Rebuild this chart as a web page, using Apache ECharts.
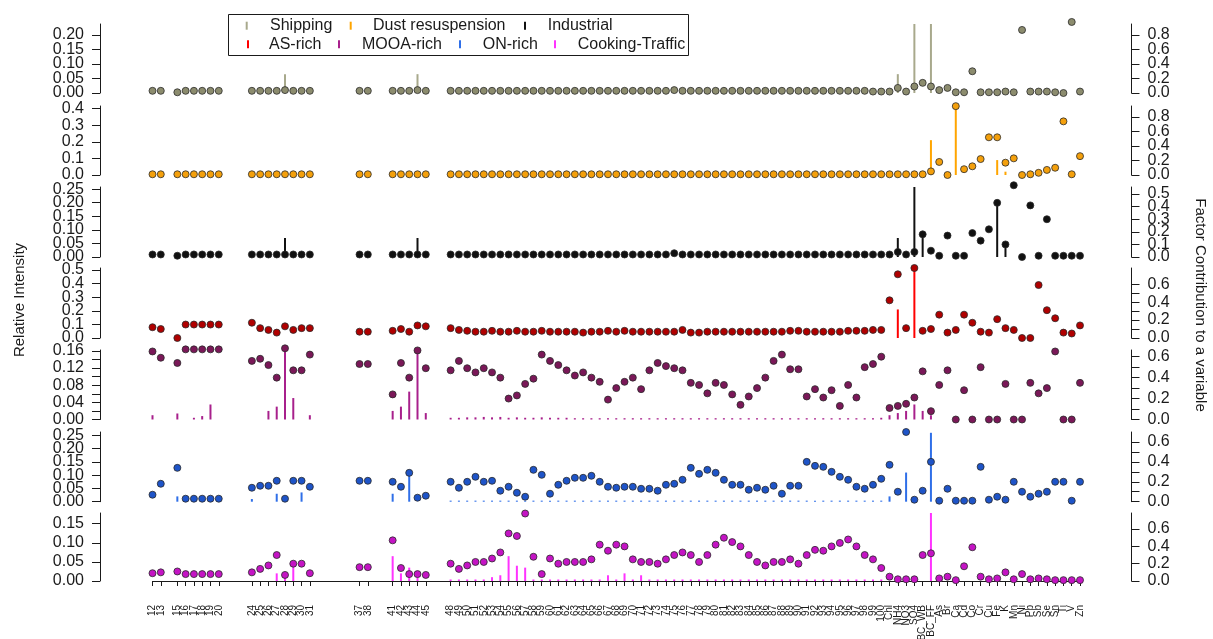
<!DOCTYPE html>
<html><head><meta charset="utf-8">
<script src="https://cdn.jsdelivr.net/npm/echarts@6/dist/echarts.min.js"></script>
<style>html,body{margin:0;background:#fff}#c{width:1213px;height:639px}</style>
</head><body><div id="c"></div>
<script>
// Variables: AMS m/z fragments followed by chemical species
const mzLabels = [12,13,15,16,17,18,19,20, 24,25,26,27,28,29,30,31, 37,38,41,42,43,44,45,
  48,49,50,51,52,53,54,55,56,57, 58,59,60,61,62,63,64,65,66,67, 68,69,70,71,72,73,74,75,76,77,
  78,79,80,81,82,83,84,85,86,87, 88,89,90,91,92,93,94,95,96,97, 98,99,100];
const speciesLabels = ['Chl','NH4','NO3','SO4','BC_WB','BC_FF','As','Br','Ca','Cd','Co','Cr',
  'Cu','Fe','K','Mn','Ni','Pb','Sb','Se','Sn','Ti','V','Zn'];
const factorNames = ['Shipping','Dust resuspension','Industrial','AS-rich','MOOA-rich','ON-rich','Cooking-Traffic'];

// Each array: rows follow mzLabels (12-20 | 24-31 | 37-45 | 48-57 | 58-67 | 68-77 | 78-87 | 88-97 | 98-100),
// then the 24 species in speciesLabels order.
// ---- Relative intensity (factor profile, left axis) ----
const shippingProfile = [
  0,0,0,0,0,0,0,0,  0,0,0,0,0.065,0,0,0,  0,0,0,0,0,0.065,0,
  0,0,0,0,0,0,0,0,0,0,  0,0,0,0,0,0,0,0,0,0,  0,0,0,0,0,0,0,0,0,0,
  0,0,0,0,0,0,0,0,0,0,  0,0,0,0,0,0,0,0,0,0,  0,0,0,
  0,0.065,0,0.24,0,0.24,0,0,0,0,0,0,  0,0,0,0,0,0,0,0,0,0,0,0];
const dustProfile = [
  0,0,0,0,0,0,0,0,  0,0,0,0,0.005,0,0,0,  0,0,0,0,0,0.004,0,
  0,0,0,0,0,0,0,0,0,0,  0,0,0,0,0,0,0,0,0,0,  0,0,0,0,0,0,0,0,0,0,
  0,0,0,0,0,0,0,0,0,0,  0,0,0,0,0,0,0,0,0,0,  0,0,0,
  0,0,0,0,0,0.21,0,0,0.42,0,0,0,  0,0.09,0.02,0,0,0,0,0,0,0,0,0];
const industrialProfile = [
  0,0,0,0,0,0,0,0,  0,0,0,0,0.07,0,0,0,  0,0,0,0,0,0.07,0,
  0,0,0,0,0,0,0,0,0,0,  0,0,0,0,0,0,0,0,0,0,  0,0,0,0,0,0,0,0,0,0,
  0,0,0,0,0,0,0,0,0,0,  0,0,0,0,0,0,0,0,0,0,  0,0,0,
  0,0.07,0,0.26,0.08,0,0,0,0,0,0,0,  0,0.19,0.05,0,0,0,0,0,0,0,0,0];
const asProfile = [
  0,0,0,0,0,0,0,0,  0,0,0,0,0,0,0,0,  0,0,0,0,0,0,0,
  0,0,0,0,0,0,0,0,0,0,  0,0,0,0,0,0,0,0,0,0,  0,0,0,0,0,0,0,0,0,0,
  0,0,0,0,0,0,0,0,0,0,  0,0,0,0,0,0,0,0,0,0,  0,0,0,
  0,0.21,0,0.52,0,0,0,0,0,0,0,0,  0,0,0,0,0,0,0,0,0,0,0,0];
const mooaProfile = [
  0.01,0,0.014,0,0.004,0.008,0.035,0,  0,0,0.02,0.03,0.16,0.05,0,0.01,  0,0,0.02,0.03,0.065,0.16,0.015,
  0.004,0.004,0.005,0.005,0.006,0.005,0.006,0.004,0.005,0.004,  0.004,0.005,0.004,0.004,0.004,0.003,0.003,0.003,0.003,0.003,
  0.003,0.003,0.003,0.003,0.003,0.003,0.003,0.003,0.003,0.003,  0.003,0.003,0.003,0.003,0.003,0.003,0.003,0.003,0.003,0.003,
  0.003,0.003,0.003,0.003,0.003,0.003,0.003,0.003,0.003,0.003,  0.003,0.003,0.004,
  0.01,0.015,0.02,0.035,0.02,0.01,0,0,0,0,0,0,  0,0,0,0,0,0,0,0,0,0,0,0];
const onProfile = [
  0,0,0.02,0,0,0,0,0,  0.01,0,0,0.03,0.01,0,0.035,0,  0,0,0.03,0,0.10,0,0,
  0.004,0.004,0.004,0.004,0.004,0.004,0.004,0.004,0.004,0.004,  0.004,0.004,0.004,0.004,0.004,0.004,0.004,0.004,0.004,0.004,
  0.004,0.004,0.004,0.004,0.004,0.004,0.004,0.004,0.004,0.004,  0.004,0.004,0.004,0.004,0.004,0.004,0.004,0.004,0.004,0.004,
  0.004,0.004,0.004,0.004,0.004,0.004,0.004,0.004,0.004,0.004,  0.004,0.004,0.004,
  0.02,0,0.11,0,0,0.26,0,0,0,0,0,0,  0,0,0,0,0,0,0,0,0,0,0,0];
const cookingProfile = [
  0,0,0,0,0,0,0,0,  0,0,0,0.02,0.02,0.04,0,0,  0,0,0.065,0.02,0.035,0.01,0,
  0.004,0.004,0.004,0.004,0.004,0.01,0.015,0.065,0.04,0.035,  0.004,0.004,0.004,0.004,0.004,0.004,0.004,0.004,0.004,0.015,
  0.004,0.02,0.004,0.015,0.004,0.004,0.004,0.004,0.004,0.004,  0.004,0.004,0.004,0.004,0.004,0.004,0.004,0.004,0.004,0.004,
  0.004,0.004,0.004,0.004,0.004,0.004,0.004,0.004,0.004,0.004,  0.004,0.004,0.004,
  0,0,0,0,0,0.18,0,0,0,0,0,0,  0,0,0,0,0,0,0,0,0,0,0,0];

// ---- Factor contribution to each variable (right axis) ----
const shippingContrib = [
  0.03,0.03,0.01,0.03,0.03,0.03,0.03,0.03,  0.03,0.03,0.03,0.03,0.04,0.03,0.03,0.03,  0.03,0.03,0.03,0.03,0.03,0.04,0.03,
  0.03,0.03,0.03,0.03,0.03,0.03,0.03,0.03,0.03,0.03,  0.03,0.03,0.03,0.03,0.03,0.03,0.03,0.03,0.03,0.03,
  0.03,0.03,0.03,0.03,0.03,0.03,0.03,0.04,0.03,0.03,  0.03,0.03,0.03,0.03,0.03,0.03,0.03,0.03,0.03,0.03,
  0.03,0.03,0.03,0.03,0.03,0.03,0.03,0.03,0.03,0.03,  0.03,0.02,0.02,
  0.02,0.07,0.02,0.09,0.14,0.09,0.04,0.07,0.01,0.01,0.30,0.01,  0.01,0.01,0.02,0.01,0.87,0.02,0.02,0.02,0.01,0.0,0.98,0.02];
const dustContrib = [
  0.01,0.01,0.01,0.01,0.01,0.01,0.01,0.01,  0.01,0.01,0.01,0.01,0.01,0.01,0.01,0.01,  0.01,0.01,0.01,0.01,0.01,0.01,0.01,
  0.01,0.01,0.01,0.01,0.01,0.01,0.01,0.01,0.01,0.01,  0.01,0.01,0.01,0.01,0.01,0.01,0.01,0.01,0.01,0.01,
  0.01,0.01,0.01,0.01,0.01,0.01,0.01,0.01,0.01,0.01,  0.01,0.01,0.01,0.01,0.01,0.01,0.01,0.01,0.01,0.01,
  0.01,0.01,0.01,0.01,0.01,0.01,0.01,0.01,0.01,0.01,  0.01,0.01,0.01,
  0.01,0.01,0.01,0.01,0.01,0.05,0.18,0.0,0.95,0.08,0.12,0.22,  0.52,0.52,0.17,0.23,0.0,0.01,0.03,0.07,0.10,0.74,0.01,0.26];
const industrialContrib = [
  0.02,0.02,0.01,0.02,0.02,0.02,0.02,0.02,  0.02,0.02,0.02,0.02,0.02,0.02,0.02,0.02,  0.02,0.02,0.02,0.02,0.02,0.02,0.02,
  0.02,0.02,0.02,0.02,0.02,0.02,0.02,0.02,0.02,0.02,  0.02,0.02,0.02,0.02,0.02,0.02,0.02,0.02,0.02,0.02,
  0.02,0.02,0.02,0.02,0.02,0.02,0.02,0.03,0.02,0.02,  0.02,0.02,0.02,0.02,0.02,0.02,0.02,0.02,0.02,0.02,
  0.02,0.02,0.02,0.02,0.02,0.02,0.02,0.02,0.02,0.02,  0.02,0.02,0.02,
  0.02,0.04,0.02,0.04,0.18,0.05,0.01,0.17,0.01,0.01,0.19,0.13,  0.22,0.43,0.10,0.57,0.0,0.41,0.01,0.30,0.01,0.01,0.01,0.01];
const asContrib = [
  0.12,0.10,0.0,0.15,0.15,0.15,0.15,0.15,  0.17,0.11,0.09,0.06,0.13,0.09,0.11,0.11,  0.07,0.07,0.08,0.10,0.07,0.14,0.13,
  0.11,0.09,0.08,0.07,0.07,0.08,0.07,0.07,0.08,0.07,  0.07,0.08,0.07,0.07,0.07,0.07,0.06,0.07,0.07,0.08,
  0.07,0.08,0.07,0.07,0.07,0.07,0.07,0.07,0.09,0.06,  0.06,0.07,0.07,0.07,0.07,0.07,0.07,0.07,0.07,0.07,
  0.07,0.08,0.08,0.07,0.07,0.07,0.07,0.07,0.08,0.08,  0.08,0.09,0.09,
  0.42,0.71,0.11,0.78,0.08,0.10,0.26,0.06,0.09,0.26,0.17,0.07,  0.06,0.21,0.11,0.09,0.0,0.0,0.59,0.31,0.22,0.06,0.05,0.14];
const mooaContrib = [
  0.65,0.59,0.54,0.67,0.67,0.67,0.67,0.67,  0.56,0.58,0.52,0.40,0.68,0.47,0.47,0.62,  0.53,0.53,0.24,0.54,0.40,0.66,0.49,
  0.47,0.56,0.49,0.45,0.49,0.45,0.40,0.20,0.23,0.34,  0.39,0.62,0.56,0.52,0.47,0.42,0.45,0.40,0.36,0.19,
  0.30,0.36,0.40,0.29,0.47,0.54,0.51,0.49,0.47,0.35,  0.33,0.25,0.35,0.33,0.24,0.14,0.22,0.30,0.40,0.56,
  0.62,0.48,0.48,0.22,0.29,0.21,0.28,0.13,0.33,0.21,  0.50,0.53,0.60,
  0.11,0.13,0.15,0.21,0.46,0.08,0.33,0.47,0.0,0.28,0.0,0.50,  0.0,0.0,0.34,0.0,0.0,0.35,0.25,0.30,0.65,0.0,0.0,0.35];
const onContrib = [
  0.07,0.18,0.34,0.03,0.03,0.03,0.03,0.03,  0.14,0.16,0.16,0.21,0.03,0.21,0.21,0.15,  0.21,0.21,0.20,0.15,0.29,0.04,0.06,
  0.20,0.14,0.20,0.25,0.20,0.21,0.11,0.15,0.09,0.05,  0.32,0.27,0.08,0.17,0.21,0.24,0.24,0.26,0.20,0.15,
  0.14,0.15,0.15,0.13,0.13,0.11,0.17,0.18,0.22,0.34,  0.28,0.32,0.29,0.22,0.17,0.17,0.12,0.14,0.12,0.16,
  0.08,0.16,0.16,0.40,0.36,0.35,0.30,0.25,0.22,0.15,  0.13,0.17,0.23,
  0.37,0.10,0.70,0.02,0.11,0.40,0.01,0.13,0.01,0.01,0.01,0.35,  0.02,0.05,0.02,0.20,0.10,0.05,0.08,0.10,0.20,0.20,0.01,0.20];
const cookingContrib = [
  0.09,0.10,0.11,0.08,0.08,0.08,0.08,0.08,  0.10,0.14,0.18,0.30,0.07,0.20,0.20,0.09,  0.16,0.16,0.47,0.15,0.08,0.08,0.07,
  0.20,0.14,0.18,0.22,0.22,0.26,0.33,0.55,0.52,0.78,  0.28,0.08,0.26,0.20,0.22,0.22,0.22,0.25,0.42,0.35,
  0.42,0.40,0.25,0.22,0.22,0.20,0.25,0.30,0.33,0.30,  0.22,0.30,0.42,0.50,0.45,0.40,0.30,0.22,0.18,0.22,
  0.22,0.25,0.20,0.30,0.36,0.35,0.40,0.44,0.48,0.40,  0.30,0.25,0.15,
  0.05,0.02,0.02,0.02,0.30,0.32,0.03,0.05,0.01,0.17,0.39,0.05,  0.02,0.03,0.10,0.02,0.08,0.02,0.03,0.02,0.01,0.01,0.01,0.01];

// Axis category list: every integer m/z from 12 to 100 (gaps unlabeled), then the species
const categories = [];
for (let v = 12; v <= 100; v++) categories.push(mzLabels.includes(v) ? String(v) : '');
speciesLabels.forEach(s => categories.push(s));
const labelPos = mzLabels.map(v => v - 12).concat(speciesLabels.map((s, i) => 89 + i));
function place(vals, name) {
  if (vals.length !== labelPos.length) throw new Error(name + ': ' + vals.length + ' values, expected ' + labelPos.length);
  const out = categories.map(() => null);
  vals.forEach((v, i) => { out[labelPos[i]] = v; });
  return out;
}

const profiles = [shippingProfile, dustProfile, industrialProfile, asProfile, mooaProfile, onProfile, cookingProfile];
const contribs = [shippingContrib, dustContrib, industrialContrib, asContrib, mooaContrib, onContrib, cookingContrib];
const lineColors = ['#a8a98c','#ffa500','#111111','#ff0000','#a8208c','#2f6fe8','#ff33ff'];
const dotColors = ['#8c8c6e','#f4a00c','#111111','#b00000','#7a1858','#1e54c8','#c414c4'];

// Panel geometry (pixels): top of plot region and zero line
const panelTop = [24, 106, 187, 268, 350, 432, 513];
const panelZero = [93, 175, 257, 338, 419.5, 501.7, 581];
const leftMax = [0.238, 0.416, 0.258, 0.515, 0.162, 0.263, 0.178];
const rightMax = [0.952, 0.952, 0.556, 0.78, 0.664, 0.70, 0.786];
const leftTicks = [[0,0.05,0.1,0.15,0.2],[0,0.1,0.2,0.3,0.4],[0,0.05,0.1,0.15,0.2,0.25],[0,0.1,0.2,0.3,0.4,0.5],
  [0,0.02,0.04,0.06,0.08,0.1,0.12,0.14,0.16],[0,0.05,0.1,0.15,0.2,0.25],[0,0.05,0.1,0.15]];
const leftLabels = [[0,0.05,0.1,0.15,0.2],[0,0.1,0.2,0.3,0.4],[0,0.05,0.1,0.15,0.2,0.25],[0,0.1,0.2,0.3,0.4,0.5],
  [0,0.04,0.08,0.12,0.16],[0,0.05,0.1,0.15,0.2,0.25],[0,0.05,0.1,0.15]];
const leftDigits = [2,1,2,1,2,2,2];
const rightTicks = [[0,0.2,0.4,0.6,0.8],[0,0.2,0.4,0.6,0.8],[0,0.1,0.2,0.3,0.4,0.5],[0,0.1,0.2,0.3,0.4,0.5,0.6],
  [0,0.1,0.2,0.3,0.4,0.5,0.6],[0,0.1,0.2,0.3,0.4,0.5,0.6],[0,0.2,0.4,0.6]];
const rightLabels = [[0,0.2,0.4,0.6,0.8],[0,0.2,0.4,0.6,0.8],[0,0.1,0.2,0.3,0.4,0.5],[0,0.2,0.4,0.6],
  [0,0.2,0.4,0.6],[0,0.2,0.4,0.6],[0,0.2,0.4,0.6]];

const FONT = 'Liberation Sans, Arial, Helvetica, sans-serif';
const INK = '#1a1a1a';
const plotLeft = 152.5, plotRight = 1080;
const leftAxisX = 100, rightAxisX = 1131.5, xAxisOffset = 16;

const grids = [], xAxes = [], yAxes = [], series = [];
for (let i = 0; i < 7; i++) {
  grids.push({left: plotLeft, width: plotRight - plotLeft, top: panelTop[i], height: panelZero[i] - panelTop[i]});
  xAxes.push({
    type: 'category', gridIndex: i, data: categories, boundaryGap: false, show: i === 6,
    position: 'bottom', offset: xAxisOffset,
    axisLine: {lineStyle: {color: INK, width: 1}},
    axisTick: {interval: (idx, v) => v !== '', length: 5, lineStyle: {color: INK}},
    axisLabel: {show: false},
    splitLine: {show: false}
  });
  yAxes.push({
    type: 'value', gridIndex: i, position: 'left', offset: plotLeft - leftAxisX, min: 0, max: leftMax[i],
    axisLine: {show: true, lineStyle: {color: INK}},
    axisTick: {show: true, length: 8, lineStyle: {color: INK}, customValues: leftTicks[i]},
    axisLabel: {show: false}, splitLine: {show: false}
  });
  yAxes.push({
    type: 'value', gridIndex: i, position: 'right', offset: rightAxisX - plotRight, min: 0, max: rightMax[i],
    axisLine: {show: true, lineStyle: {color: INK}},
    axisTick: {show: true, length: 8, lineStyle: {color: INK}, customValues: rightTicks[i]},
    axisLabel: {show: false}, splitLine: {show: false}
  });
  series.push({
    name: factorNames[i], type: 'bar', xAxisIndex: i, yAxisIndex: 2 * i, data: place(profiles[i], factorNames[i] + ' profile'),
    barWidth: 2, itemStyle: {color: lineColors[i]}, silent: true, animation: false
  });
  series.push({
    name: factorNames[i], type: 'scatter', xAxisIndex: i, yAxisIndex: 2 * i + 1, data: place(contribs[i], factorNames[i] + ' contribution'),
    symbolSize: 7, itemStyle: {color: dotColors[i], borderColor: '#2a2a2a', borderWidth: 0.8, opacity: 1},
    silent: true, animation: false, clip: false, z: 3
  });
}

// Legend box: marker line + label per factor
const legendItems = [
  {name: 'Shipping', c: 0, mx: 246.7, tx: 270, y: 25.7},
  {name: 'Dust resuspension', c: 1, mx: 350.7, tx: 373, y: 25.7},
  {name: 'Industrial', c: 2, mx: 525, tx: 547.7, y: 25.7},
  {name: 'AS-rich', c: 3, mx: 248, tx: 269, y: 44.3},
  {name: 'MOOA-rich', c: 4, mx: 339, tx: 362, y: 44.3},
  {name: 'ON-rich', c: 5, mx: 460, tx: 482.7, y: 44.3},
  {name: 'Cooking-Traffic', c: 6, mx: 555, tx: 577.7, y: 44.3}
];
const graphics = [{type: 'rect', shape: {x: 228.5, y: 14.5, width: 460, height: 41}, style: {fill: '#fff', stroke: INK, lineWidth: 1}, z: 10}];
legendItems.forEach(it => {
  graphics.push({type: 'rect', shape: {x: it.mx - 1, y: it.y - 4, width: 2, height: 8}, style: {fill: lineColors[it.c]}, z: 11});
  graphics.push({type: 'text', x: it.tx, y: it.y, style: {text: it.name, font: '16px ' + FONT, fill: INK, textVerticalAlign: 'middle', textAlign: 'left'}, z: 11});
});
graphics.push({type: 'text', x: 20, y: 300, rotation: Math.PI / 2,
  style: {text: 'Relative Intensity', font: '15px ' + FONT, fill: INK, textAlign: 'center', textVerticalAlign: 'middle'}});
graphics.push({type: 'text', x: 1200, y: 305, rotation: -Math.PI / 2,
  style: {text: 'Factor Contribution to a variable', font: '15px ' + FONT, fill: INK, textAlign: 'center', textVerticalAlign: 'middle'}});

const chart = echarts.init(document.getElementById('c'), null, {renderer: 'canvas'});
chart.setOption({
  backgroundColor: '#ffffff', animation: false,
  grid: grids, xAxis: xAxes, yAxis: yAxes, series: series, graphic: graphics
});

// Tick labels placed from the axes' own scales; all labels kept even where they touch
const tickText = [];
for (let i = 0; i < 7; i++) {
  leftLabels[i].forEach(v => tickText.push({type: 'text', x: leftAxisX - 16, y: chart.convertToPixel({yAxisIndex: 2 * i}, v),
    style: {text: v.toFixed(leftDigits[i]), font: '16px ' + FONT, fill: INK, textAlign: 'right', textVerticalAlign: 'middle'}}));
  rightLabels[i].forEach(v => tickText.push({type: 'text', x: rightAxisX + 16, y: chart.convertToPixel({yAxisIndex: 2 * i + 1}, v),
    style: {text: v.toFixed(1), font: '16px ' + FONT, fill: INK, textAlign: 'left', textVerticalAlign: 'middle'}}));
}
const xLabelTop = panelZero[6] + xAxisOffset + 8;
categories.forEach((c, idx) => {
  if (!c) return;
  tickText.push({type: 'text', x: chart.convertToPixel({xAxisIndex: 6}, idx), y: xLabelTop, rotation: Math.PI / 2,
    style: {text: c, font: '10px ' + FONT, fill: INK, textAlign: 'right', textVerticalAlign: 'middle'}});
});
chart.setOption({graphic: graphics.concat(tickText)});
</script></body></html>
